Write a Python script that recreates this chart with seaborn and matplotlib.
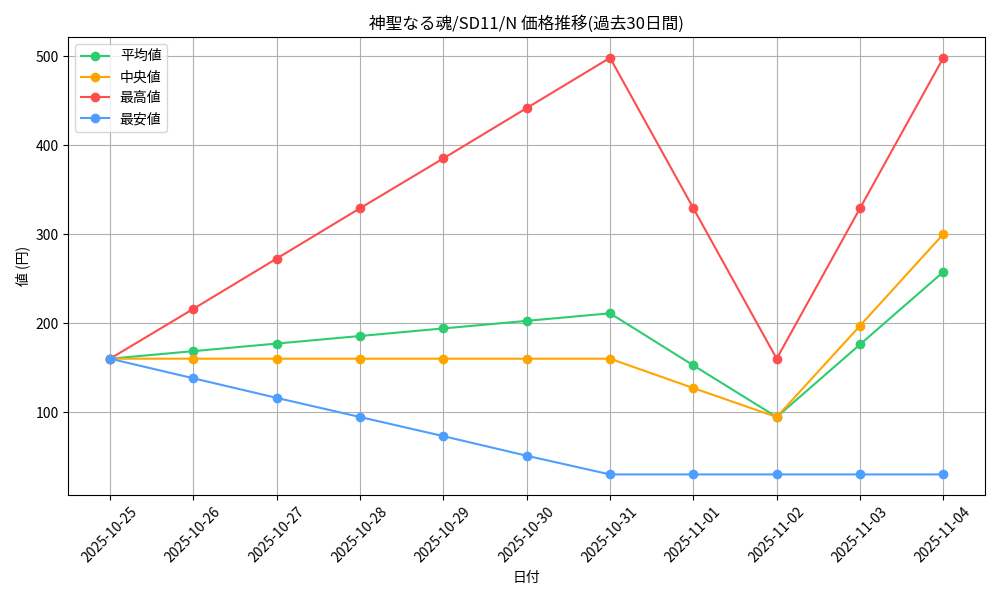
import pandas as pd
import matplotlib
matplotlib.use("Agg")
import matplotlib.pyplot as plt
import seaborn as sns

plt.rcParams['font.family'] = ['Noto Sans CJK JP', 'DejaVu Sans']

# Data
dates = ["2025-10-25", "2025-10-26", "2025-10-27", "2025-10-28", "2025-10-29", "2025-10-30",
         "2025-10-31", "2025-11-01", "2025-11-02", "2025-11-03", "2025-11-04"]
avg_price = [160, 168.5, 177, 185.5, 194, 202.5, 211, 152.5, 94.5, 176, 257.5]
median_price = [160, 160, 160, 160, 160, 160, 160, 127, 94.5, 197, 300]
max_price = [160, 216, 272.5, 329, 385, 441.5, 498, 329, 160, 329, 498]
min_price = [160, 138, 116, 94.5, 73, 51, 30, 30, 30, 30, 30]

series_names = ["平均値", "中央値", "最高値", "最安値"]
colors = ["#2ecc71", "#ffa500", "#ff4d4d", "#4d9eff"]

df = pd.DataFrame({
    "日付": dates,
    "平均値": avg_price,
    "中央値": median_price,
    "最高値": max_price,
    "最安値": min_price,
})
long_df = df.melt(id_vars="日付", var_name="種類", value_name="価格")

fig, ax = plt.subplots(figsize=(10, 6), dpi=100)
sns.lineplot(
    data=long_df, x="日付", y="価格", hue="種類",
    hue_order=series_names, palette=colors,
    marker="o", markersize=7, markeredgewidth=0, linewidth=1.5, ax=ax
)

ax.set_title("神聖なる魂/SD11/N 価格推移(過去30日間)", fontsize=12)
ax.set_xlabel("日付")
ax.set_ylabel("値 (円)")
ax.grid(True, color="#b0b0b0", linewidth=0.8)
ax.tick_params(axis="x", rotation=45)
ax.legend(loc="upper left", title=None)

plt.tight_layout()
plt.savefig("out.png")
